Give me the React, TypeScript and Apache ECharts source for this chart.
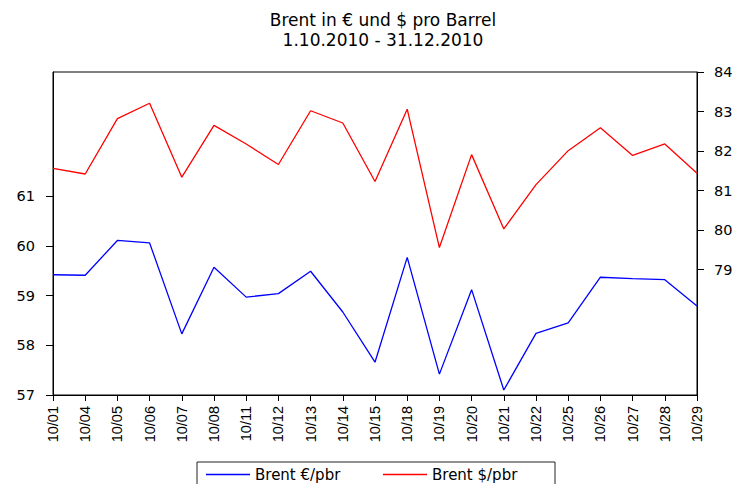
import React, { useEffect, useRef } from "react";
import * as echarts from "echarts";

const titleLines = ["Brent in € und $ pro Barrel", "1.10.2010 - 31.12.2010"];
const dates = [
  "10/01", "10/04", "10/05", "10/06", "10/07", "10/08", "10/11", "10/12", "10/13", "10/14",
  "10/15", "10/18", "10/19", "10/20", "10/21", "10/22", "10/25", "10/26", "10/27", "10/28", "10/29",
];
const brentEur = [
  59.42, 59.41, 60.11, 60.06, 58.23, 59.57, 58.97, 59.04, 59.49, 58.67,
  57.66, 59.77, 57.42, 59.12, 57.10, 58.24, 58.45, 59.37, 59.34, 59.32, 58.79,
];
const brentUsd = [
  81.56, 81.42, 82.82, 83.21, 81.34, 82.65, 82.18, 81.66, 83.02, 82.71,
  81.23, 83.06, 79.56, 81.91, 80.03, 81.15, 82.01, 82.59, 81.89, 82.18, 81.44,
];
const leftTicks = [57, 58, 59, 60, 61];
const rightTicks = [79, 80, 81, 82, 83, 84];
const seriesNames = ["Brent €/pbr", "Brent $/pbr"];

export default function App() {
  const ref = useRef<HTMLDivElement>(null);
  useEffect(() => {
    if (!ref.current) return;
    const chart = echarts.init(ref.current, null, { renderer: "svg" });
    const axisFont = { fontFamily: "DejaVu Sans", fontSize: 14, color: "#000" };
    chart.setOption({
      animation: false,
      backgroundColor: "#fff",
      title: {
        text: titleLines.join("\n"),
        left: 378,
        top: 5,
        textAlign: "center",
        textStyle: {
          fontFamily: "DejaVu Sans",
          fontSize: 17,
          fontWeight: "normal",
          color: "#000",
          lineHeight: 20,
        },
      },
      legend: {
        left: 197,
        top: 462,
        padding: [4, 9, 4, 9],
        icon: "rect",
        itemWidth: 44,
        itemHeight: 1.4,
        itemGap: 14,
        borderColor: "#222",
        borderWidth: 1,
        borderRadius: 0,
        textStyle: { fontFamily: "DejaVu Sans", fontSize: 15, color: "#000", width: 114, lineHeight: 17 },
        data: seriesNames,
      },
      grid: {
        left: 53,
        right: 43,
        top: 72,
        bottom: 89,
        show: true,
        borderColor: "#000",
        borderWidth: 1,
        backgroundColor: "transparent",
      },
      xAxis: {
        type: "category",
        data: dates,
        boundaryGap: false,
        axisLine: { lineStyle: { color: "#000", width: 1 } },
        axisTick: { alignWithLabel: true, length: 6, lineStyle: { color: "#000" } },
        axisLabel: { ...axisFont, fontFamily: "Liberation Sans", fontSize: 14.5, rotate: 90, margin: 11, interval: 0 },
        splitLine: { show: false },
      },
      yAxis: [
        {
          type: "value",
          position: "left",
          min: 57,
          max: 63.5,
          axisLine: { show: true, lineStyle: { color: "#000", width: 1 } },
          axisTick: { show: true, length: 7, customValues: leftTicks, lineStyle: { color: "#000" } },
          axisLabel: { ...axisFont, fontSize: 14.5, margin: 18, customValues: leftTicks },
          splitLine: { show: false },
        },
        {
          type: "value",
          position: "right",
          min: 75.83,
          max: 84,
          axisLine: { show: true, lineStyle: { color: "#000", width: 1 } },
          axisTick: { show: true, length: 7, customValues: rightTicks, lineStyle: { color: "#000" } },
          axisLabel: { ...axisFont, fontSize: 14.5, margin: 17, customValues: rightTicks },
          splitLine: { show: false },
        },
      ],
      series: [
        {
          name: seriesNames[0],
          type: "line",
          yAxisIndex: 0,
          data: brentEur,
          symbol: "none",
          lineStyle: { color: "#0000ff", width: 1.3 },
          itemStyle: { color: "#0000ff" },
        },
        {
          name: seriesNames[1],
          type: "line",
          yAxisIndex: 1,
          data: brentUsd,
          symbol: "none",
          lineStyle: { color: "#ff0000", width: 1.3 },
          itemStyle: { color: "#ff0000" },
        },
      ],
    });
    return () => chart.dispose();
  }, []);
  return (
    <div
      ref={ref}
      style={{ position: "fixed", left: 0, top: 0, width: 740, height: 484 }}
    />
  );
}
